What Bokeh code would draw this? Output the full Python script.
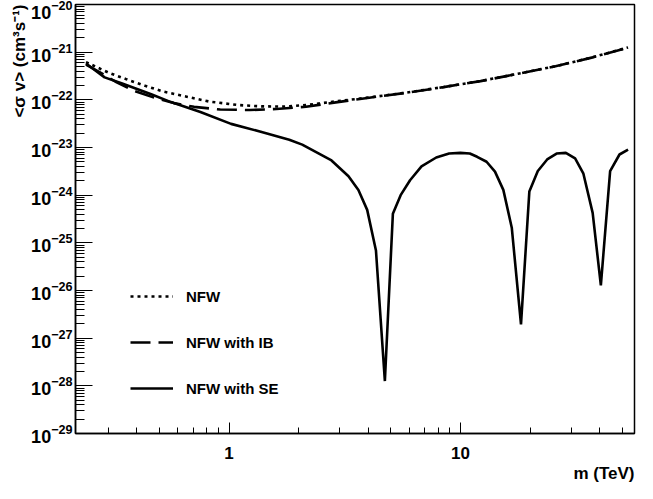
from bokeh.plotting import figure
from bokeh.models import (FixedTicker, BasicTickFormatter, LogTickFormatter, Legend,
                          LegendItem, Title, Range1d)
from bokeh.embed import file_html
from bokeh.resources import INLINE

# ---- data ----
m_nfw = [0.241, 0.302, 0.361, 0.434, 0.523, 0.656, 0.822, 1.10, 1.38, 1.72, 2.15,
         2.89, 4.03, 5.85, 8.45, 12.2, 17.7, 25.7, 37.2, 52.9]
sv_nfw = [6.20e-22, 3.70e-22, 2.69e-22, 1.97e-22, 1.48e-22, 1.165e-22, 9.18e-23,
          7.76e-23, 7.30e-23, 7.23e-23, 7.76e-23, 9.27e-23, 1.12e-22, 1.42e-22,
          1.86e-22, 2.48e-22, 3.53e-22, 5.07e-22, 7.80e-22, 1.26e-21]

m_ib = [0.241, 0.282, 0.327, 0.390, 0.475, 0.577, 0.706, 0.916, 1.23, 1.60, 2.15,
        2.89, 4.03, 5.85, 8.45, 12.2, 17.7, 25.7, 37.2, 52.9]
sv_ib = [5.50e-22, 3.58e-22, 2.33e-22, 1.54e-22, 1.11e-22, 8.54e-23, 7.13e-23,
         6.26e-23, 6.11e-23, 6.41e-23, 7.16e-23, 8.83e-23, 1.11e-22, 1.41e-22,
         1.85e-22, 2.47e-22, 3.52e-22, 5.05e-22, 7.78e-22, 1.25e-21]

m_se = [0.241, 0.290, 0.343, 0.461, 0.561, 0.752, 1.02, 1.37, 1.82, 2.07, 2.77, 3.28,
        3.62, 3.95, 4.31, 4.71, 5.10, 5.51, 6.05, 6.78, 7.85, 8.92, 9.98, 10.96, 11.79,
        12.95, 14.08, 15.30, 16.64, 18.24, 19.82, 21.56, 23.66, 25.98, 28.49, 31.24,
        33.89, 37.20, 40.36, 44.26, 48.58, 52.91]
sv_se = [5.77e-22, 2.96e-22, 2.22e-22, 1.31e-22, 8.96e-23, 5.56e-23, 3.13e-23, 2.14e-23,
         1.46e-23, 1.15e-23, 5.35e-24, 2.49e-24, 1.28e-24, 4.91e-25, 6.92e-26, 1.26e-28,
         4.06e-25, 1.00e-24, 2.06e-24, 4.02e-24, 6.17e-24, 7.47e-24, 7.73e-24, 7.47e-24,
         6.38e-24, 5.02e-24, 3.12e-24, 1.29e-24, 2.08e-25, 1.95e-27, 1.20e-24, 3.21e-24,
         5.61e-24, 7.47e-24, 7.73e-24, 5.89e-24, 2.88e-24, 4.25e-25, 1.28e-26, 3.21e-24,
         7.13e-24, 9.04e-24]

series_labels = ["NFW", "NFW with IB", "NFW with SE"]
x_title = "m (TeV)"
y_title = "<\u03c3 v> (cm\u00b3s\u207b\u00b9)"

x_major = [1, 10]
x_minor = [0.3, 0.4, 0.5, 0.6, 0.7, 0.8, 0.9, 2, 3, 4, 5, 6, 7, 8, 9, 20, 30, 40, 50]
y_exponents = list(range(-29, -19))
y_major = [10.0 ** e for e in y_exponents]
y_minor = [k * 10.0 ** e for e in y_exponents[:-1] for k in range(2, 10)]

FONT = "Liberation Sans"

p = figure(width=637, height=483, x_axis_type="log", y_axis_type="log",
           x_range=Range1d(0.2171, 56.4), y_range=Range1d(1e-29, 1e-20),
           output_backend="svg", toolbar_location=None,
           min_border_left=75, min_border_right=3, min_border_top=4,
           min_border_bottom=50)
p.xgrid.visible = False
p.ygrid.visible = False
p.outline_line_color = "black"
p.outline_line_width = 1.5
p.background_fill_color = "white"
p.border_fill_color = "white"

xa = p.xaxis[0]
xa.ticker = FixedTicker(ticks=x_major, minor_ticks=x_minor)
xa.formatter = BasicTickFormatter()
ya = p.yaxis[0]
ya.ticker = FixedTicker(ticks=y_major, minor_ticks=y_minor)
ya.formatter = LogTickFormatter()

for ax in (xa, ya):
    ax.axis_line_color = "black"
    ax.axis_line_width = 1.5
    ax.major_tick_out = 0
    ax.minor_tick_out = 0
    ax.major_tick_line_color = "black"
    ax.minor_tick_line_color = "black"
    ax.major_label_text_font = FONT
    ax.major_label_text_font_style = "bold"
    ax.major_label_text_color = "black"
xa.major_label_text_font_size = "17px"
ya.major_label_text_font_size = "18px"
xa.major_tick_in = 11
xa.minor_tick_in = 6
xa.major_label_standoff = 13
ya.major_tick_in = 17
ya.minor_tick_in = 9
ya.major_label_standoff = 3

r_nfw = p.line(m_nfw, sv_nfw, line_color="black", line_width=2.6, line_dash="3 4")
r_ib = p.line(m_ib, sv_ib, line_color="black", line_width=2.6, line_dash="20 8")
r_se = p.line(m_se, sv_se, line_color="black", line_width=2.6)

legend = Legend(items=[LegendItem(label=series_labels[0], renderers=[r_nfw]),
                       LegendItem(label=series_labels[1], renderers=[r_ib]),
                       LegendItem(label=series_labels[2], renderers=[r_se])],
                location=(55, 35), orientation="vertical",
                background_fill_alpha=0, border_line_color=None,
                padding=0, margin=0, spacing=26,
                glyph_width=43, glyph_height=20, label_height=20, label_standoff=13,
                label_text_font=FONT, label_text_font_style="bold",
                label_text_color="black",
                label_text_font_size="15px", label_text_baseline="middle")
p.add_layout(legend)

p.add_layout(Title(text=x_title, align="right", text_font=FONT, text_font_style="bold",
                   text_font_size="17px", text_color="black", standoff=0), "below")
p.add_layout(Title(text=y_title, align="right", text_font=FONT, text_font_style="bold",
                   text_font_size="17px", text_color="black", standoff=0), "left")

open("out.html", "w").write(file_html(p, INLINE))
